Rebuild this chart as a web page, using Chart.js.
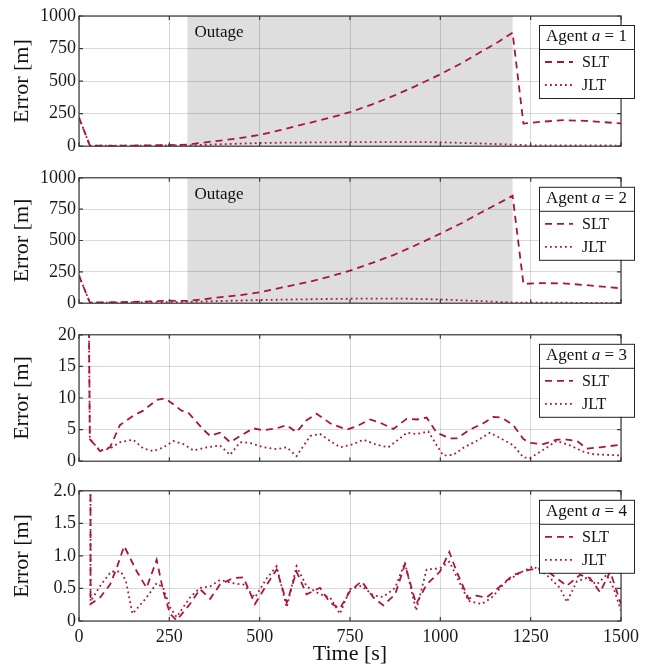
<!DOCTYPE html>
<html lang="en">
<head>
<meta charset="UTF-8">
<title>Error por agente</title>
<script src="https://cdn.jsdelivr.net/npm/chart.js"></script>
<style>
  body { margin: 0; background: #fff; }
  #wrap { position: relative; width: 657px; height: 667px; }
  canvas { position: absolute; left: 0; }
</style>
</head>
<body>
<div id="wrap">
  <canvas id="c1" width="657" height="160" style="top:0px"></canvas>
  <canvas id="c2" width="657" height="153" style="top:164px"></canvas>
  <canvas id="c3" width="657" height="154" style="top:321px"></canvas>
  <canvas id="c4" width="657" height="190" style="top:477px"></canvas>
</div>
<script>
// intervalo sin señal (s)
const outage = [300, 1200];
const xTicks = [0, 250, 500, 750, 1000, 1250, 1500];

// Agente 1
const tSlt1 = [0, 30, 60, 100, 150, 200, 250, 300, 372, 440, 500, 560, 630, 690, 750, 810, 870, 930, 1000, 1060, 1110, 1160, 1200, 1230, 1280, 1340, 1400, 1450, 1500];
const slt1  = [220, 5, 4, 3, 5, 7, 9, 12, 37, 60, 87, 125, 174, 215, 261, 320, 386, 460, 552, 640, 721, 800, 871, 174, 188, 200, 195, 185, 175];
const tJlt1 = [0, 30, 100, 200, 300, 372, 450, 500, 600, 700, 800, 900, 1000, 1100, 1200, 1250, 1300, 1400, 1500];
const jlt1  = [220, 5, 4, 5, 6, 13, 20, 25, 28, 30, 32, 32, 30, 22, 12, 7, 6, 6, 5];

// Agente 2
const tSlt2 = [0, 30, 60, 100, 150, 200, 250, 300, 372, 440, 500, 560, 630, 690, 750, 810, 870, 930, 1000, 1060, 1110, 1160, 1200, 1230, 1280, 1340, 1400, 1450, 1500];
const slt2  = [220, 5, 6, 8, 10, 14, 20, 18, 41, 62, 86, 125, 166, 210, 259, 320, 384, 460, 555, 640, 719, 795, 857, 154, 160, 158, 145, 132, 119];
const tJlt2 = [0, 30, 100, 200, 300, 400, 500, 600, 700, 800, 900, 1000, 1100, 1200, 1250, 1300, 1400, 1500];
const jlt2  = [220, 5, 5, 6, 10, 18, 25, 30, 34, 37, 36, 30, 18, 5, 4, 4, 3, 3];

// Agente 3
const tSlt3 = [0, 30, 58, 86, 113, 150, 178, 215, 238, 261, 284, 302, 344, 363, 390, 418, 446, 482, 510, 547, 575, 602, 630, 658, 695, 741, 768, 805, 833, 870, 907, 935, 962, 990, 1027, 1045, 1082, 1119, 1147, 1170, 1202, 1230, 1248, 1285, 1322, 1350, 1378, 1405, 1442, 1500];
const slt3  = [220, 3.5, 1.6, 2.2, 5.7, 7.2, 8.0, 9.7, 9.95, 9.0, 8.0, 7.7, 5.0, 4.0, 4.5, 3.0, 4.0, 5.2, 4.9, 5.2, 5.7, 4.6, 6.5, 7.5, 6.0, 5.0, 5.5, 6.6, 6.1, 5.1, 6.7, 6.6, 6.9, 4.5, 3.6, 3.6, 5.0, 6.0, 7.0, 6.9, 5.7, 3.5, 2.9, 2.7, 3.4, 3.4, 3.2, 2.0, 2.2, 2.6];
const tJlt3 = [0, 30, 58, 86, 113, 150, 178, 206, 234, 261, 289, 317, 354, 390, 418, 446, 473, 510, 547, 575, 602, 640, 667, 695, 723, 759, 787, 824, 856, 888, 907, 935, 967, 990, 1008, 1036, 1063, 1100, 1137, 1174, 1202, 1230, 1248, 1285, 1322, 1359, 1396, 1424, 1460, 1500];
const jlt3  = [220, 3.5, 1.7, 2.0, 3.0, 3.4, 2.0, 1.6, 2.2, 3.2, 2.7, 1.7, 2.2, 2.5, 1.0, 3.0, 2.9, 2.2, 1.9, 2.2, 0.8, 4.0, 4.3, 3.2, 2.2, 2.7, 3.4, 2.6, 2.2, 3.6, 4.5, 4.3, 4.7, 2.5, 0.9, 1.0, 2.1, 3.2, 4.5, 3.4, 2.5, 0.6, 0.5, 1.8, 3.2, 2.5, 1.5, 1.1, 1.0, 0.9];

// Agente 4
const tSlt4 = [0, 32, 58, 86, 104, 125, 160, 187, 215, 233, 252, 270, 307, 335, 363, 390, 427, 455, 487, 520, 547, 575, 602, 630, 667, 695, 722, 750, 782, 815, 842, 875, 902, 933, 962, 999, 1025, 1045, 1078, 1100, 1128, 1165, 1202, 1248, 1285, 1322, 1350, 1387, 1414, 1442, 1470, 1500];
const slt4  = [220, 0.26, 0.36, 0.56, 0.81, 1.15, 0.76, 0.51, 0.94, 0.46, 0.11, 0.01, 0.26, 0.49, 0.34, 0.56, 0.66, 0.67, 0.26, 0.56, 0.79, 0.28, 0.76, 0.41, 0.51, 0.28, 0.19, 0.46, 0.61, 0.36, 0.24, 0.41, 0.87, 0.26, 0.56, 0.76, 1.06, 0.76, 0.34, 0.39, 0.36, 0.53, 0.71, 0.79, 0.81, 0.66, 0.54, 0.71, 0.66, 0.44, 0.76, 0.26];
const tJlt4 = [0, 32, 61, 89, 116, 130, 148, 187, 215, 233, 252, 270, 307, 335, 363, 390, 427, 455, 487, 520, 547, 575, 602, 630, 667, 695, 722, 750, 782, 815, 842, 875, 902, 933, 962, 999, 1025, 1054, 1078, 1114, 1142, 1183, 1220, 1257, 1294, 1331, 1350, 1378, 1405, 1433, 1460, 1479, 1500];
const jlt4  = [220, 0.3, 0.56, 0.76, 0.76, 0.61, 0.11, 0.36, 0.58, 0.51, 0.21, 0.06, 0.36, 0.51, 0.53, 0.63, 0.58, 0.56, 0.36, 0.66, 0.84, 0.21, 0.84, 0.53, 0.41, 0.36, 0.11, 0.49, 0.54, 0.39, 0.37, 0.51, 0.9, 0.16, 0.79, 0.81, 0.91, 0.58, 0.31, 0.26, 0.36, 0.61, 0.74, 0.84, 0.71, 0.51, 0.29, 0.61, 0.66, 0.56, 0.71, 0.51, 0.16];

const rojo = '#a8173a';
const serif = '"Liberation Serif", "DejaVu Serif", serif';

function pares(t, v) {
    return t.map((x, i) => ({ x: x, y: v[i] }));
}

// sombreado del outage, por debajo de la rejilla
const fondoOutage = {
    id: 'fondoOutage',
    beforeDraw(chart, args, opts) {
        if (!opts.mostrar) return;
        const { ctx, chartArea: a, scales: { x } } = chart;
        const x0 = x.getPixelForValue(outage[0]);
        const x1 = x.getPixelForValue(outage[1]);
        ctx.save();
        ctx.fillStyle = '#dedede';
        ctx.fillRect(x0, a.top, x1 - x0, a.bottom - a.top);
        ctx.fillStyle = '#111';
        ctx.font = '17px ' + serif;
        ctx.textBaseline = 'middle';
        ctx.fillText('Outage', x0 + 7, a.top + 17);
        ctx.restore();
    }
};

// marco del eje con marcas hacia dentro
const marco = {
    id: 'marco',
    afterDatasetsDraw(chart) {
        const { ctx, chartArea: a, scales: { x, y } } = chart;
        ctx.save();
        ctx.strokeStyle = '#3a3a3a';
        ctx.lineWidth = 1.2;
        ctx.setLineDash([]);
        ctx.strokeRect(a.left, a.top, a.right - a.left, a.bottom - a.top);
        ctx.beginPath();
        x.ticks.forEach(t => {
            const px = x.getPixelForValue(t.value);
            ctx.moveTo(px, a.bottom); ctx.lineTo(px, a.bottom - 4);
            ctx.moveTo(px, a.top); ctx.lineTo(px, a.top + 4);
        });
        y.ticks.forEach(t => {
            const py = y.getPixelForValue(t.value);
            ctx.moveTo(a.left, py); ctx.lineTo(a.left + 4, py);
            ctx.moveTo(a.right, py); ctx.lineTo(a.right - 4, py);
        });
        ctx.stroke();
        ctx.restore();
    }
};

// leyenda con titulo "Agent a = n"
const leyenda = {
    id: 'leyenda',
    afterDraw(chart, args, opts) {
        const { ctx, chartArea: a } = chart;
        const bx = 539, by = a.top + 9, bw = 95, bh = 73;
        ctx.save();
        ctx.fillStyle = '#fff';
        ctx.fillRect(bx, by, bw, bh);
        ctx.strokeStyle = '#222';
        ctx.lineWidth = 1;
        ctx.strokeRect(bx + 0.5, by + 0.5, bw, bh);
        ctx.beginPath();
        ctx.moveTo(bx, by + 24.5);
        ctx.lineTo(bx + bw, by + 24.5);
        ctx.stroke();

        // titulo
        const fNormal = '17px ' + serif;
        const fItal = 'italic 17px ' + serif;
        const partes = [['Agent ', fNormal], ['a', fItal], [' = ' + opts.agente, fNormal]];
        let total = 0;
        partes.forEach(p => { ctx.font = p[1]; total += ctx.measureText(p[0]).width; });
        let cx = bx + bw / 2 - total / 2;
        ctx.fillStyle = '#111';
        ctx.textBaseline = 'middle';
        partes.forEach(p => {
            ctx.font = p[1];
            ctx.fillText(p[0], cx, by + 12);
            cx += ctx.measureText(p[0]).width;
        });

        chart.data.datasets.forEach((ds, i) => {
            const yy = by + 37 + i * 23;
            ctx.strokeStyle = ds.borderColor;
            ctx.lineWidth = ds.borderWidth;
            ctx.setLineDash(ds.borderDash);
            ctx.beginPath();
            ctx.moveTo(bx + 6, yy);
            ctx.lineTo(bx + 34, yy);
            ctx.stroke();
            ctx.setLineDash([]);
            ctx.fillStyle = '#111';
            ctx.font = '16px ' + serif;
            ctx.fillText(ds.label, bx + 43, yy + 1);
        });
        ctx.restore();
    }
};

function crearPanel(id, agente, tS, vS, tJ, vJ, yMax, paso, conOutage, ultimo, padTop) {
    const rejilla = { color: 'rgba(0,0,0,0.15)', lineWidth: 1, drawTicks: false };
    return new Chart(document.getElementById(id), {
        type: 'line',
        data: {
            datasets: [
                { label: 'SLT', data: pares(tS, vS), borderColor: rojo, borderWidth: 1.8, borderDash: [7, 5], pointRadius: 0, tension: 0, fill: false },
                { label: 'JLT', data: pares(tJ, vJ), borderColor: rojo, borderWidth: 1.8, borderDash: [1.8, 3.2], pointRadius: 0, tension: 0, fill: false }
            ]
        },
        options: {
            responsive: false,
            animation: false,
            layout: { padding: { top: padTop, bottom: ultimo ? 0 : 10, left: 0, right: 36 } },
            plugins: {
                legend: { display: false },
                tooltip: { enabled: false },
                fondoOutage: { mostrar: conOutage },
                leyenda: { agente: agente }
            },
            scales: {
                x: {
                    type: 'linear',
                    min: 0,
                    max: 1500,
                    afterBuildTicks(s) { s.ticks = xTicks.map(v => ({ value: v })); },
                    afterFit(s) { s.height = ultimo ? 46 : 0; },
                    grid: rejilla,
                    border: { display: false },
                    ticks: {
                        display: ultimo,
                        padding: 5,
                        color: '#1a1a1a',
                        font: { family: serif, size: 18 },
                        callback: v => String(v)
                    },
                    title: { display: ultimo, text: 'Time [s]', color: '#111', font: { family: serif, size: 22 }, padding: { top: 0, bottom: 0 } }
                },
                y: {
                    min: 0,
                    max: yMax,
                    afterFit(s) { s.width = 79; },
                    grid: rejilla,
                    border: { display: false },
                    ticks: {
                        stepSize: paso,
                        padding: 3,
                        color: '#1a1a1a',
                        font: { family: serif, size: 18 },
                        callback: v => (paso < 1 && v !== 0) ? v.toFixed(1) : String(v)
                    },
                    title: { display: true, text: 'Error [m]', color: '#111', font: { family: serif, size: 22 }, padding: { top: 9, bottom: 0 } }
                }
            }
        },
        plugins: [fondoOutage, marco, leyenda]
    });
}

crearPanel('c1', 1, tSlt1, slt1, tJlt1, jlt1, 1000, 250, true, false, 16);
crearPanel('c2', 2, tSlt2, slt2, tJlt2, jlt2, 1000, 250, true, false, 10);
crearPanel('c3', 3, tSlt3, slt3, tJlt3, jlt3, 20, 5, false, false, 10);
crearPanel('c4', 4, tSlt4, slt4, tJlt4, jlt4, 2, 0.5, false, true, 10);
</script>
</body>
</html>
